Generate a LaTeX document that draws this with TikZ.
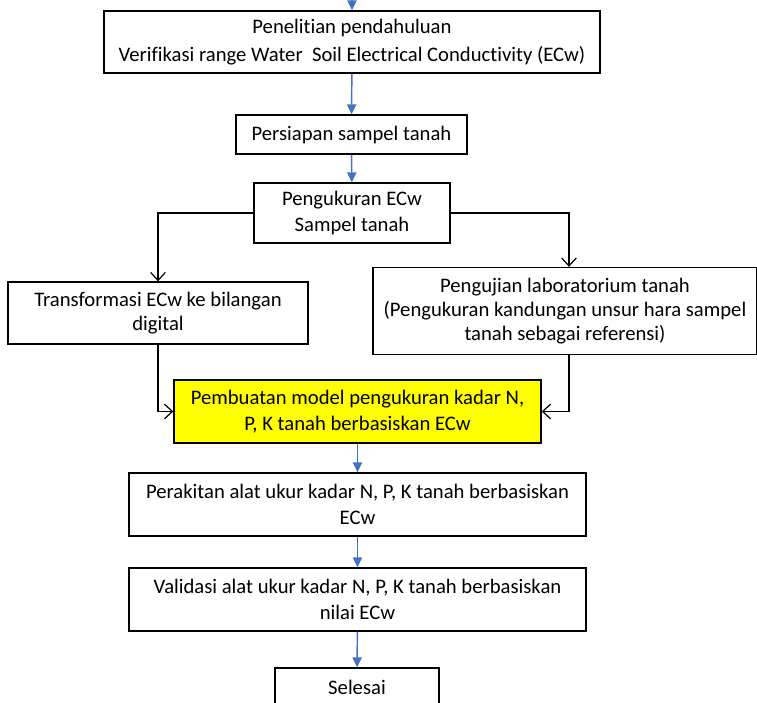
\documentclass[tikz,border=0pt]{standalone}
\usepackage{fontspec}
\setmainfont{Carlito}[Ligatures=NoCommon]
\usetikzlibrary{arrows.meta}
\definecolor{flowblue}{HTML}{4472C4}
\definecolor{hlyellow}{HTML}{FFFF00}

\tikzset{
	box/.style={draw, line width=1pt, align=center, inner sep=0pt, font=\fontsize{15.5}{20}\selectfont},
	flow/.style={draw=flowblue, line width=1.1pt, -{Triangle[length=7.5pt,width=7pt]}},
	side/.style={draw, line width=0.9pt, -{Straight Barb[length=6pt,width=11pt]}},
}

\begin{document}
\begin{tikzpicture}[x=0.75pt,y=0.75pt,yscale=-1,xscale=1]
	\useasboundingbox (0,0) rectangle (757,703);
	\coordinate (start) at (352,-20);
	\node [box, minimum width=372pt, minimum height=46.5pt, font=\fontsize{15.5}{21}\selectfont] (pen) at (352,42) {Penelitian pendahuluan\\Verifikasi range Water~~Soil Electrical Conductivity (ECw)};
	\node [box, minimum width=173.25pt, minimum height=29.25pt] (siap) at (351.5,134.5) {Persiapan sampel tanah};
	\node [box, minimum width=147pt, minimum height=45pt] (ukur) at (352,213) {Pengukuran ECw\\Sampel tanah};
	\node [box, minimum width=225pt, minimum height=46.5pt, font=\fontsize{15.5}{18}\selectfont] (trans) at (158,313) {Transformasi ECw ke bilangan\\digital};
	\node [box, minimum width=288pt, minimum height=65.25pt, font=\fontsize{15.5}{18}\selectfont] (lab) at (565,311) {Pengujian laboratorium tanah\\(Pengukuran kandungan unsur hara sampel\\tanah sebagai referensi)};
	\node [box, fill=hlyellow, minimum width=275.25pt, minimum height=47.25pt] (model) at (357.5,411.5) {Pembuatan model pengukuran kadar N,\\P, K tanah berbasiskan ECw};
	\node [box, minimum width=342.75pt, minimum height=47.25pt] (rakit) at (357.5,504.5) {Perakitan alat ukur kadar N, P, K tanah berbasiskan\\ECw};
	\node [box, minimum width=342.75pt, minimum height=47.25pt] (valid) at (357.5,599.5) {Validasi alat ukur kadar N, P, K tanah berbasiskan\\nilai ECw};
	\node [box, minimum width=123pt, minimum height=28.5pt] (selesai) at (357,687) {Selesai};

	\draw [flow] (start) -- (pen);
	\draw [flow] (pen) -- (siap);
	\draw [flow] (siap) -- (ukur);
	\draw [side] (ukur.west) -| (trans.north);
	\draw [side] (ukur.east) -| ([xshift=3pt]lab.north);
	\draw [side] (trans.south) |- (model.west);
	\draw [side] ([xshift=3pt]lab.south) |- (model.east);
	\draw [flow] (model) -- (rakit);
	\draw [flow] (rakit) -- (valid);
	\draw [flow] (valid) -- (selesai);
\end{tikzpicture}
\end{document}
